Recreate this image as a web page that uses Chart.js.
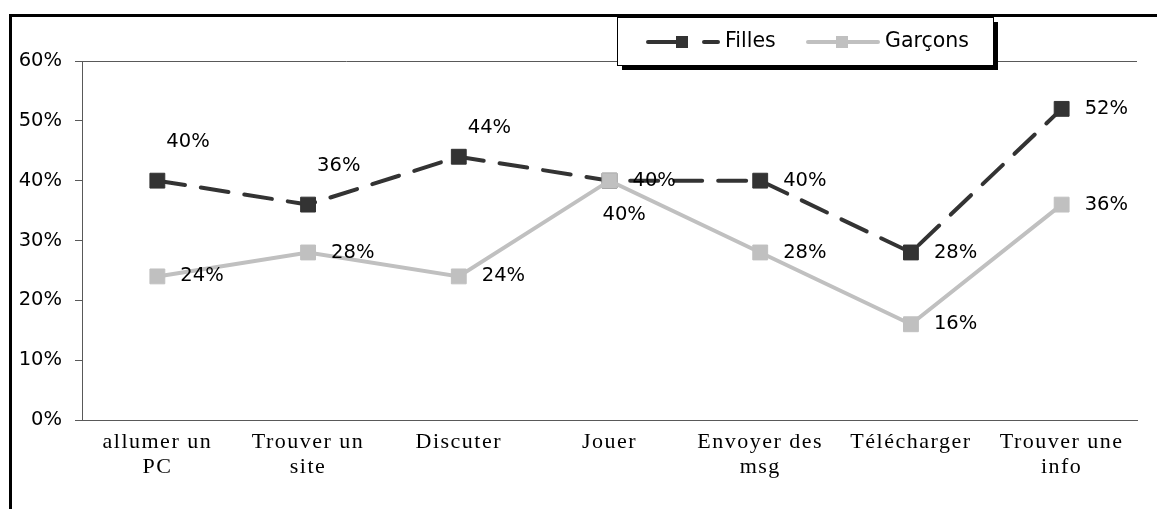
<!DOCTYPE html>
<html>
<head>
<meta charset="utf-8">
<script src="https://cdn.jsdelivr.net/npm/chart.js@4.4.1/dist/chart.umd.min.js"></script>
<style>
  html, body { margin: 0; padding: 0; background: #fff; }
  #wrap { position: relative; width: 1161px; height: 509px; overflow: hidden; }
  #frame { position: absolute; left: 9px; top: 14px; right: 4px; bottom: -5px; border-top: 3px solid #000; border-left: 3px solid #000; }
  canvas { position: absolute; left: 0; top: 0; }
</style>
</head>
<body>
<div id="wrap">
  <div id="frame"></div>
  <canvas id="chart" width="1161" height="509"></canvas>
</div>
<script>
const categories = [
  ['allumer un', 'PC'],
  ['Trouver un', 'site'],
  ['Discuter'],
  ['Jouer'],
  ['Envoyer des', 'msg'],
  ['Télécharger'],
  ['Trouver une', 'info']
];
const filles = [40, 36, 44, 40, 40, 28, 52];
const garcons = [24, 28, 24, 40, 28, 16, 36];
const yTicks = [0, 10, 20, 30, 40, 50, 60];

// where each value label sits relative to its point
const fillesLabelPos = ['above', 'above', 'aboveNear', 'right', 'right', 'right', 'right'];
const garconsLabelPos = ['right', 'right', 'right', 'below', 'right', 'right', 'right'];
const labelOffsets = {
  above: { dx: 9, dy: -39 },
  aboveNear: { dx: 9, dy: -29 },
  right: { dx: 23, dy: 0 },
  below: { dx: -7, dy: 34 }
};

const DARK = '#333333';
const LIGHT = '#c0c0c0';
const sansFont = '"DejaVu Sans", Arial, sans-serif';
const serifFont = '"Liberation Serif", "Times New Roman", serif';

// the x labels in the original are wider than plain Times
function spaceLabels(scale, px) {
  if (scale._spaced) return;
  const draw = scale.drawLabels;
  scale.drawLabels = function (area) {
    this.ctx.save();
    this.ctx.letterSpacing = px;
    draw.call(this, area);
    this.ctx.restore();
  };
  scale._spaced = true;
}

const pointLabels = {
  id: 'pointLabels',
  afterDatasetsDraw(chart) {
    const ctx = chart.ctx;
    ctx.save();
    ctx.font = '19.5px ' + sansFont;
    ctx.fillStyle = '#000';
    ctx.textAlign = 'left';
    ctx.textBaseline = 'middle';
    chart.data.datasets.forEach((ds, i) => {
      const meta = chart.getDatasetMeta(i);
      meta.data.forEach((pt, j) => {
        const off = labelOffsets[ds.labelPos[j]];
        ctx.fillText(ds.data[j] + '%', pt.x + off.dx, pt.y + off.dy);
      });
    });
    ctx.restore();
  }
};

const boxLegend = {
  id: 'boxLegend',
  afterDraw(chart) {
    const ctx = chart.ctx;
    const x = 617, y = 17, w = 376, h = 48;
    ctx.save();
    ctx.fillStyle = '#000';
    ctx.fillRect(x + 5, y + 5, w, h);
    ctx.fillStyle = '#fff';
    ctx.fillRect(x, y, w, h);
    ctx.strokeStyle = '#000';
    ctx.lineWidth = 1;
    ctx.strokeRect(x + 0.5, y + 0.5, w, h);

    const cy = y + 25;
    const itemX = [648, 808];
    chart.data.datasets.forEach((ds, i) => {
      const sx = itemX[i];
      ctx.strokeStyle = ds.borderColor;
      ctx.lineWidth = 4;
      ctx.lineCap = 'round';
      ctx.setLineDash(ds.borderDash ? [28, 28] : []);
      ctx.beginPath();
      ctx.moveTo(sx, cy);
      ctx.lineTo(sx + 70, cy);
      ctx.stroke();
      ctx.setLineDash([]);
      ctx.fillStyle = ds.backgroundColor;
      ctx.fillRect(sx + 28, cy - 6, 12, 12);
      ctx.fillStyle = '#000';
      ctx.font = '20.5px ' + sansFont;
      ctx.textAlign = 'left';
      ctx.textBaseline = 'middle';
      ctx.fillText(ds.label, sx + 77, cy);
    });
    ctx.restore();
  }
};

new Chart(document.getElementById('chart'), {
  type: 'line',
  data: {
    labels: categories,
    datasets: [
      {
        label: 'Filles',
        data: filles,
        labelPos: fillesLabelPos,
        borderColor: DARK,
        backgroundColor: DARK,
        borderWidth: 4,
        borderDash: [28, 16],
        borderCapStyle: 'round',
        pointStyle: 'rect',
        pointRadius: 10.5,
        pointBorderWidth: 1,
        pointBackgroundColor: DARK,
        pointBorderColor: DARK,
        tension: 0,
        order: 1
      },
      {
        label: 'Garçons',
        data: garcons,
        labelPos: garconsLabelPos,
        borderColor: LIGHT,
        backgroundColor: LIGHT,
        borderWidth: 4,
        pointStyle: 'rect',
        pointRadius: 10.5,
        pointBorderWidth: 1,
        pointBackgroundColor: LIGHT,
        pointBorderColor: LIGHT,
        tension: 0,
        order: 0
      }
    ]
  },
  options: {
    responsive: false,
    animation: false,
    layout: { padding: { top: 61, right: 24, left: 0, bottom: 0 } },
    plugins: {
      legend: { display: false },
      tooltip: { enabled: false }
    },
    scales: {
      x: {
        offset: true,
        grid: { display: false, drawTicks: false },
        border: { display: true, color: '#595959', width: 1 },
        ticks: {
          color: '#000',
          font: { family: serifFont, size: 22, lineHeight: 1.14 },
          padding: 10,
          autoSkip: false,
          maxRotation: 0
        },
        afterFit(scale) {
          scale.height = 89;
          spaceLabels(scale, '1.5px');
        }
      },
      y: {
        min: 0,
        max: 60,
        afterBuildTicks(scale) {
          scale.ticks = yTicks.map(v => ({ value: v }));
        },
        grid: {
          color: c => (c.tick && c.tick.value === 60 ? '#595959' : 'rgba(0,0,0,0)'),
          tickColor: '#595959',
          tickLength: 7,
          lineWidth: 1
        },
        border: { display: true, color: '#595959', width: 1 },
        ticks: {
          color: '#000',
          font: { family: sansFont, size: 19.5 },
          padding: 13,
          callback: v => v + '%'
        },
        afterFit(scale) {
          scale.width = 82;
        }
      }
    }
  },
  plugins: [pointLabels, boxLegend]
});
</script>
</body>
</html>
